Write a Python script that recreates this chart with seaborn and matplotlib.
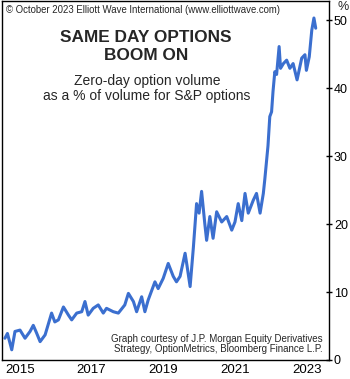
import matplotlib
matplotlib.use("Agg")
import matplotlib.pyplot as plt
import seaborn as sns
import pandas as pd
from matplotlib.ticker import FixedLocator, NullFormatter, FixedFormatter

# ---- data (decimal year, % of S&P option volume) ----
years = [2015.09, 2015.16, 2015.28, 2015.37, 2015.51, 2015.65, 2015.79, 2015.88, 2015.97,
         2016.07, 2016.21, 2016.39, 2016.48, 2016.58, 2016.72, 2016.86, 2016.95,
         2017.09, 2017.23, 2017.32, 2017.41, 2017.55, 2017.69, 2017.83, 2017.92,
         2018.11, 2018.25, 2018.43, 2018.53, 2018.67, 2018.76, 2018.90, 2018.99,
         2019.08, 2019.27, 2019.36, 2019.50, 2019.64, 2019.78, 2019.87, 2019.97,
         2020.11, 2020.16, 2020.25, 2020.34, 2020.43, 2020.50, 2020.57, 2020.66, 2020.71,
         2020.80, 2020.89, 2020.99, 2021.13, 2021.27, 2021.41, 2021.50, 2021.59, 2021.69,
         2021.78, 2021.87, 2022.01, 2022.10, 2022.20, 2022.29, 2022.33, 2022.42, 2022.47,
         2022.52, 2022.56, 2022.61, 2022.66, 2022.73, 2022.77, 2022.85, 2022.94, 2023.03,
         2023.12, 2023.23, 2023.36, 2023.45, 2023.49, 2023.57, 2023.64, 2023.70, 2023.75]
share = [3.2, 3.9, 1.5, 4.2, 4.4, 3.2, 4.2, 5.1, 4.0,
         2.7, 3.7, 6.9, 5.6, 5.9, 7.8, 6.6, 5.9,
         6.9, 7.1, 8.6, 6.6, 7.6, 8.1, 6.9, 7.6,
         7.1, 6.9, 8.1, 9.8, 8.6, 7.1, 9.3, 7.1,
         8.8, 11.5, 10.5, 12.0, 14.2, 12.3, 11.5, 12.3,
         15.7, 14.0, 10.8, 16.5, 23.0, 21.6, 24.8, 20.0, 17.6,
         21.1, 17.9, 21.8, 20.3, 21.1, 19.1, 20.3, 23.0, 20.5,
         24.5, 21.6, 23.5, 24.5, 21.6, 24.5, 26.5, 31.5, 35.8,
         36.5, 39.5, 42.4, 42.0, 46.1, 42.9, 43.6, 44.1, 42.9,
         43.6, 41.2, 44.4, 44.9, 42.6, 44.6, 48.5, 50.3, 48.8]

year_ticks = [2015, 2016, 2017, 2018, 2019, 2020, 2021, 2022, 2023]
year_labels = ["2015", "2017", "2019", "2021", "2023"]
y_ticks = [0, 10, 20, 30, 40, 50]

df = pd.DataFrame({"year": years, "share": share})

sns.set_style("white")
plt.rcParams["font.family"] = ["Liberation Sans", "DejaVu Sans"]

W, H = 350, 379
fig = plt.figure(figsize=(W / 100, H / 100), dpi=100)
ax = fig.add_axes([1.7 / W, (H - 360) / H, (329 - 1.7) / W, (360 - 1) / H])

sns.lineplot(data=df, x="year", y="share", ax=ax, color="#3b6fcf", linewidth=2.2)

ax.set_xlim(2015.0, 2024.12)
ax.set_ylim(0, 52.8)
ax.set_xlabel("")
ax.set_ylabel("")

for s in ax.spines.values():
    s.set_color("black")
    s.set_linewidth(1.0)

# y axis on right
ax.yaxis.tick_right()
ax.set_yticks(y_ticks)
ax.set_yticklabels([str(v) for v in y_ticks])
ax.tick_params(axis="y", which="major", direction="inout", length=5, width=1,
               labelsize=9, pad=1, colors="black", left=False, right=True)

# x axis: ticks at year boundaries, labels mid-year
ax.xaxis.set_major_locator(FixedLocator(year_ticks))
ax.xaxis.set_major_formatter(NullFormatter())
ax.xaxis.set_minor_locator(FixedLocator([int(l) + 0.5 for l in year_labels]))
ax.xaxis.set_minor_formatter(FixedFormatter(year_labels))
ax.tick_params(axis="x", which="major", direction="inout", length=5, width=1, colors="black")
ax.tick_params(axis="x", which="minor", length=0, labelsize=9.5, pad=3, colors="black")

# texts
fig.text(6 / W, 1 - 10 / H, "\u00a9 October 2023 Elliott Wave International (www.elliottwave.com)",
         fontsize=6.95, ha="left", va="center")
fig.text(146 / W, 1 - 37 / H, "SAME DAY OPTIONS", fontsize=12.4, fontweight="bold",
         ha="center", va="center")
fig.text(146 / W, 1 - 55 / H, "BOOM ON", fontsize=12.4, fontweight="bold",
         ha="center", va="center")
fig.text(147 / W, 1 - 81 / H, "Zero-day option volume", fontsize=10.0, ha="center", va="center")
fig.text(147 / W, 1 - 96 / H, "as a % of volume for S&P options", fontsize=10.0,
         ha="center", va="center")
fig.text(323 / W, 1 - 339 / H, "Graph courtesy of J.P. Morgan Equity Derivatives",
         fontsize=7.0, ha="right", va="center")
fig.text(323 / W, 1 - 349 / H, "Strategy, OptionMetrics, Bloomberg Finance L.P.",
         fontsize=7.0, ha="right", va="center")
fig.text(338 / W, 1 - 7 / H, "%", fontsize=9, ha="left", va="center")

fig.savefig("out.png", dpi=100)
